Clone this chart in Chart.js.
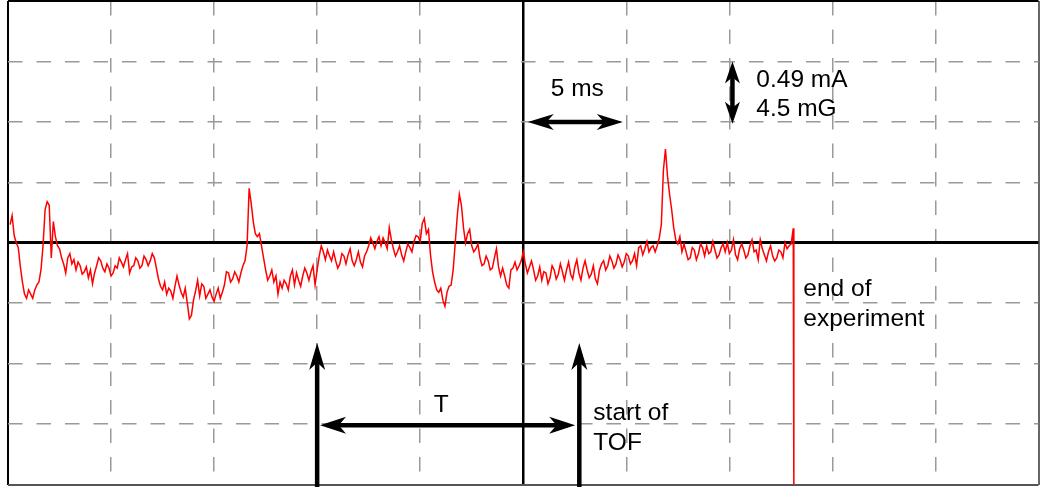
<!DOCTYPE html>
<html>
<head>
<meta charset="utf-8">
<script src="https://cdn.jsdelivr.net/npm/chart.js@4/dist/chart.umd.min.js"></script>
<style>
  html, body { margin: 0; padding: 0; background: #ffffff; }
  canvas { display: block; }
</style>
</head>
<body>
<canvas id="c" width="1041" height="487"></canvas>
<script>
// ---- data (time in ms, signal in vertical divisions: 1 div = 0.49 mA = 4.5 mG) ----
const timeMs = [
  -24.9,-24.8,-24.7,-24.6,-24.5,-24.4,-24.3,-24.2,-24.1,-24.0,
  -23.9,-23.8,-23.7,-23.6,-23.5,-23.4,-23.3,-23.2,-23.1,-23.0,
  -22.9,-22.8,-22.7,-22.6,-22.5,-22.4,-22.3,-22.2,-22.1,-22.0,
  -21.9,-21.8,-21.7,-21.6,-21.5,-21.4,-21.3,-21.2,-21.1,-21.0,
  -20.9,-20.8,-20.7,-20.6,-20.5,-20.4,-20.3,-20.2,-20.1,-20.0,
  -19.9,-19.8,-19.7,-19.6,-19.5,-19.4,-19.3,-19.2,-19.1,-19.0,
  -18.9,-18.8,-18.7,-18.6,-18.5,-18.4,-18.3,-18.2,-18.1,-18.0,
  -17.9,-17.8,-17.7,-17.6,-17.5,-17.4,-17.3,-17.2,-17.1,-17.0,
  -16.9,-16.8,-16.7,-16.6,-16.5,-16.4,-16.3,-16.2,-16.1,-16.0,
  -15.9,-15.8,-15.7,-15.6,-15.5,-15.4,-15.3,-15.2,-15.1,-15.0,
  -14.9,-14.8,-14.7,-14.6,-14.5,-14.4,-14.3,-14.2,-14.1,-14.0,
  -13.9,-13.8,-13.7,-13.6,-13.5,-13.4,-13.3,-13.2,-13.1,-13.0,
  -12.9,-12.8,-12.7,-12.6,-12.5,-12.4,-12.3,-12.2,-12.1,-12.0,
  -11.9,-11.8,-11.7,-11.6,-11.5,-11.4,-11.3,-11.2,-11.1,-11.0,
  -10.9,-10.8,-10.7,-10.6,-10.5,-10.4,-10.3,-10.2,-10.1,-10.0,
  -9.9,-9.8,-9.7,-9.6,-9.5,-9.4,-9.3,-9.2,-9.1,-9.0,
  -8.9,-8.8,-8.7,-8.6,-8.5,-8.4,-8.3,-8.2,-8.1,-8.0,
  -7.9,-7.8,-7.7,-7.6,-7.5,-7.4,-7.3,-7.2,-7.1,-7.0,
  -6.9,-6.8,-6.7,-6.6,-6.5,-6.4,-6.3,-6.2,-6.1,-6.0,
  -5.9,-5.8,-5.7,-5.6,-5.5,-5.4,-5.3,-5.2,-5.1,-5.0,
  -4.9,-4.8,-4.7,-4.6,-4.5,-4.4,-4.3,-4.2,-4.1,-4.0,
  -3.9,-3.8,-3.7,-3.6,-3.5,-3.4,-3.3,-3.2,-3.1,-3.0,
  -2.9,-2.8,-2.7,-2.6,-2.5,-2.4,-2.3,-2.2,-2.1,-2.0,
  -1.9,-1.8,-1.7,-1.6,-1.5,-1.4,-1.3,-1.2,-1.1,-1.0,
  -0.9,-0.8,-0.7,-0.6,-0.5,-0.4,-0.3,-0.2,-0.1,0.0,
  0.1,0.2,0.3,0.4,0.5,0.6,0.7,0.8,0.9,1.0,
  1.1,1.2,1.3,1.4,1.5,1.6,1.7,1.8,1.9,2.0,
  2.1,2.2,2.3,2.4,2.5,2.6,2.7,2.8,2.9,3.0,
  3.1,3.2,3.3,3.4,3.5,3.6,3.7,3.8,3.9,4.0,
  4.1,4.2,4.3,4.4,4.5,4.6,4.7,4.8,4.9,5.0,
  5.1,5.2,5.3,5.4,5.5,5.6,5.7,5.8,5.9,6.0,
  6.1,6.2,6.3,6.4,6.5,6.6,6.7,6.8,6.9,7.0,
  7.1,7.2,7.3,7.4,7.5,7.6,7.7,7.8,7.9,8.0,
  8.1,8.2,8.3,8.4,8.5,8.6,8.7,8.8,8.9,9.0,
  9.1,9.2,9.3,9.4,9.5,9.6,9.7,9.8,9.9,10.0,
  10.1,10.2,10.3,10.4,10.5,10.6,10.7,10.8,10.9,11.0,
  11.1,11.2,11.3,11.4,11.5,11.6,11.7,11.8,11.9,12.0,
  12.1,12.2,12.3,12.4,12.5,12.6,12.7,12.8,12.9,13.0,
  13.1,13.13
];
const signalDiv = [
  0.30,0.45,0.12,0.00,-0.08,-0.40,-0.65,-0.85,-0.92,-0.78,
  -0.85,-0.92,-0.78,-0.70,-0.65,-0.45,-0.05,0.55,0.68,0.62,
  -0.25,0.35,0.10,-0.05,-0.10,-0.25,-0.35,-0.50,-0.25,-0.18,
  -0.35,-0.28,-0.45,-0.32,-0.38,-0.52,-0.48,-0.40,-0.58,-0.45,
  -0.68,-0.50,-0.38,-0.25,-0.30,-0.42,-0.48,-0.35,-0.42,-0.55,
  -0.50,-0.38,-0.42,-0.25,-0.32,-0.40,-0.28,-0.18,-0.50,-0.40,
  -0.38,-0.25,-0.30,-0.42,-0.38,-0.22,-0.28,-0.38,-0.30,-0.18,
  -0.25,-0.42,-0.60,-0.72,-0.78,-0.65,-0.85,-0.75,-0.80,-0.92,
  -0.72,-0.55,-0.70,-0.82,-0.90,-0.75,-1.00,-1.26,-1.20,-0.95,
  -0.80,-0.62,-0.88,-0.68,-0.72,-0.92,-0.85,-0.78,-0.90,-0.97,
  -0.85,-0.75,-0.92,-0.82,-0.70,-0.48,-0.50,-0.65,-0.60,-0.48,
  -0.55,-0.65,-0.50,-0.38,-0.30,-0.05,0.90,0.65,0.35,0.15,
  0.10,0.15,-0.05,-0.25,-0.45,-0.62,-0.55,-0.45,-0.65,-0.55,
  -0.85,-0.65,-0.75,-0.62,-0.68,-0.78,-0.55,-0.45,-0.70,-0.50,
  -0.62,-0.72,-0.55,-0.42,-0.50,-0.62,-0.48,-0.38,-0.70,-0.45,
  -0.22,-0.05,-0.15,-0.28,-0.12,-0.22,-0.30,-0.15,-0.30,-0.42,
  -0.35,-0.18,-0.22,-0.35,-0.20,-0.10,-0.30,-0.38,-0.28,-0.15,
  -0.32,-0.40,-0.22,-0.15,-0.05,0.08,0.00,-0.10,0.02,0.10,
  -0.05,0.08,0.00,-0.10,0.25,0.05,-0.10,-0.22,-0.15,-0.05,
  -0.20,-0.30,-0.15,-0.02,-0.08,-0.15,0.02,0.12,0.10,0.02,
  0.32,0.40,0.15,0.22,-0.20,-0.48,-0.65,-0.78,-0.82,-0.75,
  -0.95,-1.05,-0.82,-0.72,-0.70,-0.45,0.00,0.45,0.80,0.62,
  0.25,0.00,0.15,0.22,-0.05,-0.15,-0.10,-0.02,-0.25,-0.38,
  -0.35,-0.22,-0.30,-0.45,-0.42,-0.25,-0.10,-0.40,-0.55,-0.42,
  -0.55,-0.70,-0.75,-0.45,-0.42,-0.32,-0.45,-0.38,-0.30,-0.15,
  -0.35,-0.50,-0.40,-0.30,-0.45,-0.62,-0.55,-0.40,-0.62,-0.48,
  -0.50,-0.68,-0.58,-0.38,-0.45,-0.60,-0.52,-0.35,-0.48,-0.62,
  -0.45,-0.32,-0.52,-0.60,-0.40,-0.28,-0.50,-0.62,-0.42,-0.30,
  -0.45,-0.58,-0.52,-0.38,-0.60,-0.68,-0.45,-0.35,-0.30,-0.45,
  -0.38,-0.22,-0.30,-0.42,-0.35,-0.20,-0.28,-0.40,-0.32,-0.18,
  -0.22,-0.35,-0.30,-0.18,-0.38,-0.08,-0.05,-0.20,-0.10,0.02,
  -0.15,-0.08,-0.05,-0.15,-0.05,0.08,0.30,1.20,1.55,1.10,
  0.80,0.55,0.25,0.05,-0.02,0.10,-0.15,-0.02,-0.15,-0.28,
  -0.25,-0.08,-0.12,-0.28,-0.18,-0.02,-0.08,-0.22,-0.05,-0.18,
  -0.15,0.02,-0.12,-0.25,-0.20,-0.08,-0.02,-0.15,0.00,-0.18,
  -0.12,0.05,-0.20,-0.28,-0.10,-0.02,-0.12,-0.25,-0.20,-0.05,
  0.05,-0.15,-0.12,-0.28,0.05,-0.10,-0.20,-0.30,-0.15,-0.05,
  -0.22,-0.30,-0.25,-0.12,-0.15,-0.25,0.00,-0.10,-0.05,-0.02,
  0.24,-4.30
];
// axis ranges (no tick labels are shown on the scope screen)
const xRangeMs = [-25, 25];
const xStepMs = 5;
const yRangeDiv = [-4, 4];
const yStepDiv = 1;

// annotation texts
const annotationTexts = ["5 ms", "0.49 mA", "4.5 mG", "end of", "experiment", "T", "start of", "TOF"];
</script>
<script>
// ---- annotation geometry (in data units) ----
const annTextPos = [
  { t: 2.62,  v: 2.42,  align: 'center' },
  { t: 11.31, v: 2.57,  align: 'left' },
  { t: 11.31, v: 2.09,  align: 'left' },
  { t: 13.59, v: -0.88, align: 'left' },
  { t: 13.59, v: -1.38, align: 'left' },
  { t: -3.98, v: -2.80, align: 'center' },
  { t: 3.40,  v: -2.93, align: 'left' },
  { t: 3.40,  v: -3.43, align: 'left' }
];
const annArrows = [
  { t1: 0.22,  v1: 2.0,  t2: 4.83, v2: 2.0,  both: true,  len: 26, hw: 8 },
  { t1: 10.15, v1: 3.0,  t2: 10.15, v2: 1.97, both: true, len: 22, hw: 7.5 },
  { t1: -9.86, v1: -3.02, t2: 2.52, v2: -3.02, both: true, len: 26, hw: 8.5 },
  { t1: -10.0, v1: -4.05, t2: -10.0, v2: -1.66, both: false, len: 27, hw: 8 },
  { t1: 2.72,  v1: -4.05, t2: 2.72,  v2: -1.66, both: false, len: 27, hw: 8 }
];

function drawHead(ctx, tx, ty, fx, fy, len, hw) {
  const dx = tx - fx, dy = ty - fy;
  const d = Math.hypot(dx, dy);
  const ux = dx / d, uy = dy / d;
  const px = -uy, py = ux;
  const bx = tx - ux * len, by = ty - uy * len;
  const nx = tx - ux * len * 0.72, ny = ty - uy * len * 0.72;
  ctx.beginPath();
  ctx.moveTo(tx, ty);
  ctx.lineTo(bx + px * hw, by + py * hw);
  ctx.lineTo(nx, ny);
  ctx.lineTo(bx - px * hw, by - py * hw);
  ctx.closePath();
  ctx.fill();
}

const annotationPlugin = {
  id: 'scopeAnnotations',
  afterDatasetsDraw(chart) {
    const ctx = chart.ctx;
    const xs = chart.scales.x, ys = chart.scales.y;
    ctx.save();
    ctx.fillStyle = '#000';
    ctx.strokeStyle = '#000';
    ctx.lineWidth = 4.5;
    ctx.lineCap = 'butt';
    annArrows.forEach(a => {
      const x1 = xs.getPixelForValue(a.t1), y1 = ys.getPixelForValue(a.v1);
      const x2 = xs.getPixelForValue(a.t2), y2 = ys.getPixelForValue(a.v2);
      const dx = x2 - x1, dy = y2 - y1, d = Math.hypot(dx, dy);
      const ux = dx / d, uy = dy / d;
      const sx = a.both ? x1 + ux * a.len * 0.6 : x1;
      const sy = a.both ? y1 + uy * a.len * 0.6 : y1;
      const ex = x2 - ux * a.len * 0.6, ey = y2 - uy * a.len * 0.6;
      ctx.beginPath();
      ctx.moveTo(sx, sy);
      ctx.lineTo(ex, ey);
      ctx.stroke();
      drawHead(ctx, x2, y2, x1, y1, a.len, a.hw);
      if (a.both) drawHead(ctx, x1, y1, x2, y2, a.len, a.hw);
    });
    ctx.font = '24.5px "Liberation Sans", Arial, sans-serif';
    ctx.textBaseline = 'alphabetic';
    annotationTexts.forEach((txt, i) => {
      const p = annTextPos[i];
      ctx.textAlign = p.align;
      ctx.fillText(txt, xs.getPixelForValue(p.t), ys.getPixelForValue(p.v));
    });
    ctx.restore();
  }
};

const DASH = [14.5, 14];
function xGridStyle(c) {
  const v = c.tick ? c.tick.value : null;
  if (v === 0) return { color: '#000', width: 2.5, dash: [] };
  if (v === xRangeMs[0]) return { color: '#000', width: 2, dash: [] };
  if (v === xRangeMs[1]) return { color: '#666', width: 2, dash: [] };
  return { color: '#9a9a9a', width: 1.5, dash: DASH };
}
function yGridStyle(c) {
  const v = c.tick ? c.tick.value : null;
  if (v === 0) return { color: '#000', width: 3, dash: [] };
  if (v === yRangeDiv[1]) return { color: '#000', width: 2, dash: [] };
  if (v === yRangeDiv[0]) return { color: '#555', width: 2, dash: [] };
  return { color: '#9a9a9a', width: 1.5, dash: DASH };
}

const points = timeMs.map((t, i) => ({ x: t, y: signalDiv[i] }));

new Chart(document.getElementById('c'), {
  type: 'line',
  data: {
    datasets: [{
      data: points,
      borderColor: '#ff0000',
      borderWidth: 1.5,
      pointRadius: 0,
      tension: 0,
      fill: false
    }]
  },
  options: {
    responsive: false,
    devicePixelRatio: 1,
    animation: false,
    layout: { padding: { left: 8, right: 2.5, top: 1, bottom: 2.5 } },
    plugins: { legend: { display: false }, tooltip: { enabled: false } },
    scales: {
      x: {
        type: 'linear',
        min: xRangeMs[0], max: xRangeMs[1],
        ticks: { display: false, stepSize: xStepMs },
        grid: {
          drawTicks: false,
          color: c => xGridStyle(c).color,
          lineWidth: c => xGridStyle(c).width
        },
        border: { display: false, dash: c => xGridStyle(c).dash }
      },
      y: {
        type: 'linear',
        min: yRangeDiv[0], max: yRangeDiv[1],
        ticks: { display: false, stepSize: yStepDiv },
        grid: {
          drawTicks: false,
          color: c => yGridStyle(c).color,
          lineWidth: c => yGridStyle(c).width
        },
        border: { display: false, dash: c => yGridStyle(c).dash }
      }
    }
  },
  plugins: [annotationPlugin]
});
</script>
</body>
</html>
